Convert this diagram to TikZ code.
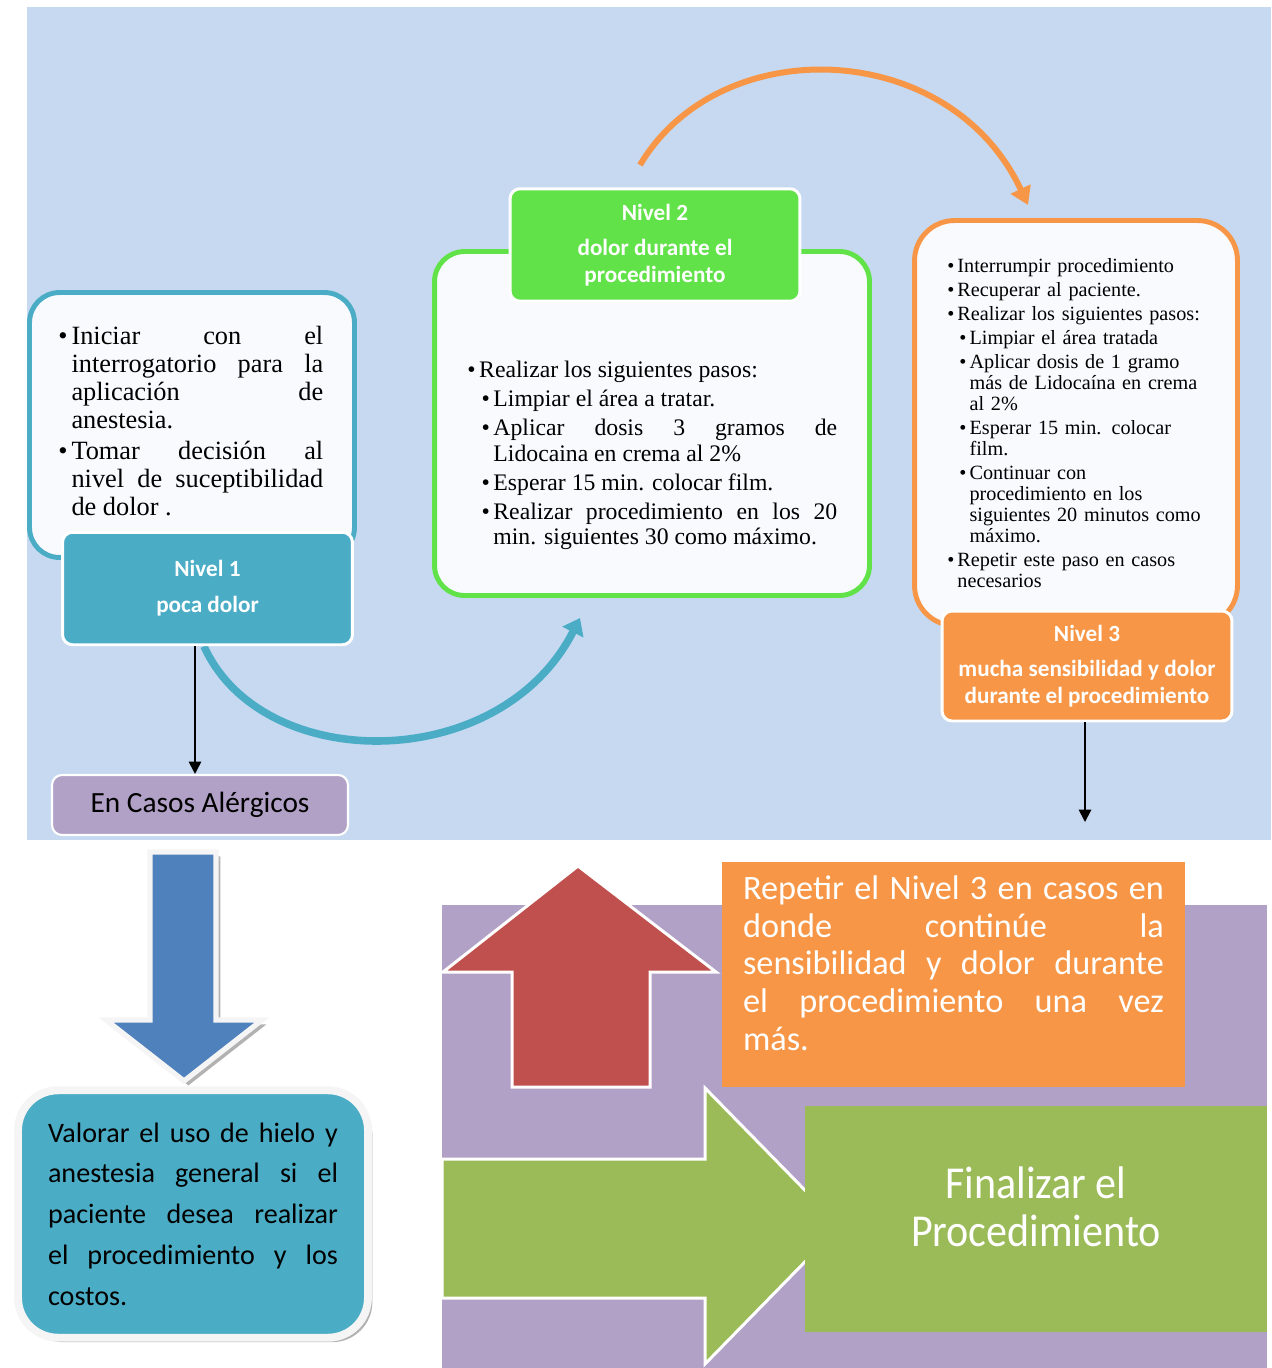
\documentclass[tikz,border=0pt]{standalone}
\usepackage{fontspec}
\setmainfont{Liberation Serif}
\newfontfamily\calibri{Carlito}
\newfontfamily\calibrinarrow{Carlito}[FakeStretch=0.92]
\usepackage{xcolor}
\usepackage{tikz}
\usetikzlibrary{shapes,arrows.meta,positioning,shadows,backgrounds}
\definecolor{fondoazul}{RGB}{198,217,240}
\definecolor{fondocaja}{RGB}{248,250,253}
\definecolor{nivelazul}{RGB}{75,172,198}
\definecolor{nivelverde}{RGB}{98,226,73}
\definecolor{nivelnaranja}{RGB}{247,150,70}
\definecolor{lila}{RGB}{178,161,199}
\definecolor{flechaazul}{RGB}{79,129,189}
\definecolor{flecharoja}{RGB}{192,80,77}
\definecolor{oliva}{RGB}{155,187,89}

% bullet item with hanging indent
\newcommand\punto[2][0pt]{\par\noindent\hangindent=\dimexpr#1+0.5em\relax\hangafter=1\hspace*{#1}\makebox[0.5em][l]{\textbullet}#2\par}

\begin{document}
\begin{tikzpicture}[x=0.02cm, y=-0.02cm,
    caja/.style={rectangle, rounded corners=0.6cm, line width=2.8pt, fill=fondocaja},
    cabecera/.style={rectangle, rounded corners=0.2cm, draw=white, line width=1.7pt, text=white, align=center, minimum width=5.8cm, minimum height=2.25cm, font=\calibri\bfseries\fontsize{13.2}{15.3}\selectfont},
    lista/.style={anchor=north west, inner sep=0pt, execute at begin node={\setlength\parskip{1.8pt}}},
    flecha/.style={-{Triangle[length=7pt,width=7pt]}, line width=1.1pt},
    bloque/.style={draw=white, line width=1.7pt}
]
    \useasboundingbox (0,0) rectangle (1271,1368);

    % Nivel 1
    \node[caja, draw=nivelazul, minimum width=6.5cm, minimum height=5.3cm] (n1caja) at (192,425) {};
    \node[lista, text width=5.3cm, align=justify, font=\fontsize{15}{15.9}\selectfont] (n1texto) at (58,313) {%
        \punto{Iniciar con el\linebreak interrogatorio para la\linebreak aplicación de\linebreak anestesia.}
        \punto{Tomar decisión al\linebreak nivel de suceptibilidad\linebreak de dolor .}};
    \node[cabecera, fill=nivelazul] (n1cab) at (207.5,588.5) {Nivel 1\\[5pt]poca dolor};

    % Nivel 2
    \node[caja, draw=nivelverde, minimum width=8.7cm, minimum height=6.88cm] (n2caja) at (652,423.5) {};
    \node[lista, text width=7.4cm, align=justify, font=\fontsize{13.5}{14.7}\selectfont] (n2texto) at (467,348) {%
        \punto{Realizar los siguientes pasos:}
        \punto[0.6em]{Limpiar el área a tratar.}
        \punto[0.6em]{Aplicar dosis 3 gramos de\linebreak Lidocaina en crema  al 2\%}
        \punto[0.6em]{Esperar 15 min. colocar film.}
        \punto[0.6em]{Realizar procedimiento en los 20\linebreak min. siguientes 30 como máximo.}};
    \node[cabecera, fill=nivelverde] (n2cab) at (655,245) {Nivel 2\\[5pt]dolor durante el\\procedimiento};

    % Nivel 3
    \node[caja, draw=nivelnaranja, rounded corners=0.8cm, minimum width=6.46cm, minimum height=8.1cm] (n3caja) at (1076,423) {};
    \node[lista, text width=5.2cm, align=left, font=\fontsize{11.5}{11.9}\selectfont] (n3texto) at (947,248) {%
        \punto{Interrumpir procedimiento}
        \punto{Recuperar al paciente.}
        \punto{Realizar los siguientes pasos:}
        \punto[0.6em]{Limpiar el área tratada}
        \punto[0.6em]{Aplicar dosis de 1 gramo\linebreak más de Lidocaína en crema\linebreak al 2\%}
        \punto[0.6em]{Esperar 15 min. colocar\linebreak film.}
        \punto[0.6em]{Continuar con\linebreak procedimiento en los\linebreak siguientes 20 minutos como\linebreak máximo.}
        \punto{Repetir este paso en casos\linebreak necesarios}};
    \node[cabecera, fill=nivelnaranja, minimum height=2.2cm] (n3cab) at (1087,666) {Nivel 3\\[5pt]mucha sensibilidad y dolor\\durante el procedimiento};

    % Alergias
    \node[rectangle, rounded corners=0.2cm, draw=white, line width=1.2pt, fill=lila, minimum width=5.92cm, minimum height=1.2cm, font=\calibri\fontsize{16.7}{18}\selectfont] (alergia) at (200,805) {En Casos Alérgicos};

    \filldraw[fill=flechaazul, draw=gray!8, line width=3pt, drop shadow={shadow xshift=2.5pt, shadow yshift=-2.5pt, fill=gray!60, opacity=1}]
        (150,852) -- (216,852) -- (216,1020) -- (262,1020) -- (184,1081) -- (106,1020) -- (150,1020) -- cycle;

    \node[rectangle, rounded corners=0.8cm, draw=gray!8, line width=4.5pt, fill=nivelazul, minimum width=7cm, minimum height=4.95cm, text width=5.8cm, align=justify, font=\calibri\fontsize{16}{23.2}\selectfont, drop shadow={shadow xshift=2.5pt, shadow yshift=-2.5pt, fill=gray!60, opacity=1}] (valorar) at (193,1214) {%
        Valorar el uso de hielo y\linebreak anestesia general si el\linebreak paciente desea realizar\linebreak el procedimiento y los\linebreak costos.};

    % Final
    \fill[lila] (442,905) rectangle (1267,1368);
    \filldraw[bloque, fill=flecharoja] (512,1087) -- (512,972) -- (443,972) -- (578,866) -- (716,972) -- (650,972) -- (650,1087) -- cycle;
    \filldraw[bloque, fill=oliva] (442,1159) -- (705,1159) -- (705,1088) -- (840,1226) -- (705,1364) -- (705,1298) -- (442,1298) -- cycle;

    \node[rectangle, fill=nivelnaranja, minimum width=9.26cm, minimum height=4.5cm, text width=8.42cm, align=justify, text=white, font=\calibri\fontsize{19.5}{21.5}\selectfont] (repetir) at (953.5,974.5) {%
        Repetir el Nivel 3 en casos en\linebreak donde continúe la\linebreak sensibilidad y dolor durante\linebreak el procedimiento  una vez\linebreak más.\rule[-13pt]{0pt}{0pt}};
    \node[rectangle, fill=oliva, minimum width=9.24cm, minimum height=4.52cm, text=white, align=center, font=\calibrinarrow\fontsize{26}{27}\selectfont] (finalizar) at (1036,1219) {Finalizar el\\Procedimiento\rule[-14pt]{0pt}{0pt}};

    % Arrows
    \coordinate (n3fin) at (1085,822);
    \draw[flecha] ([xshift=-0.1cm]alergia.north |- n1cab.south) -- ([xshift=-0.1cm]alergia.north);
    \draw[flecha] (n3cab.south -| n3fin) -- (n3fin);

    \begin{scope}[on background layer]
        \fill[fondoazul] (27,7) rectangle (1271,840);
        \coordinate (azulfin) at (580,618);
        \coordinate (naranjaini) at (640,165);
        \coordinate (naranjafin) at (1028,205);
        \draw[nivelazul, line width=4.3pt, -{Triangle[length=9pt,width=13pt]}] ([xshift=-2pt]n1cab.south) .. controls (262,775) and (500,775) .. (azulfin);
        \draw[nivelnaranja, line width=3.4pt, -{Triangle[length=10pt,width=12pt]}] (naranjaini) .. controls (720,30) and (950,38) .. (naranjafin);
    \end{scope}

\end{tikzpicture}
\end{document}
